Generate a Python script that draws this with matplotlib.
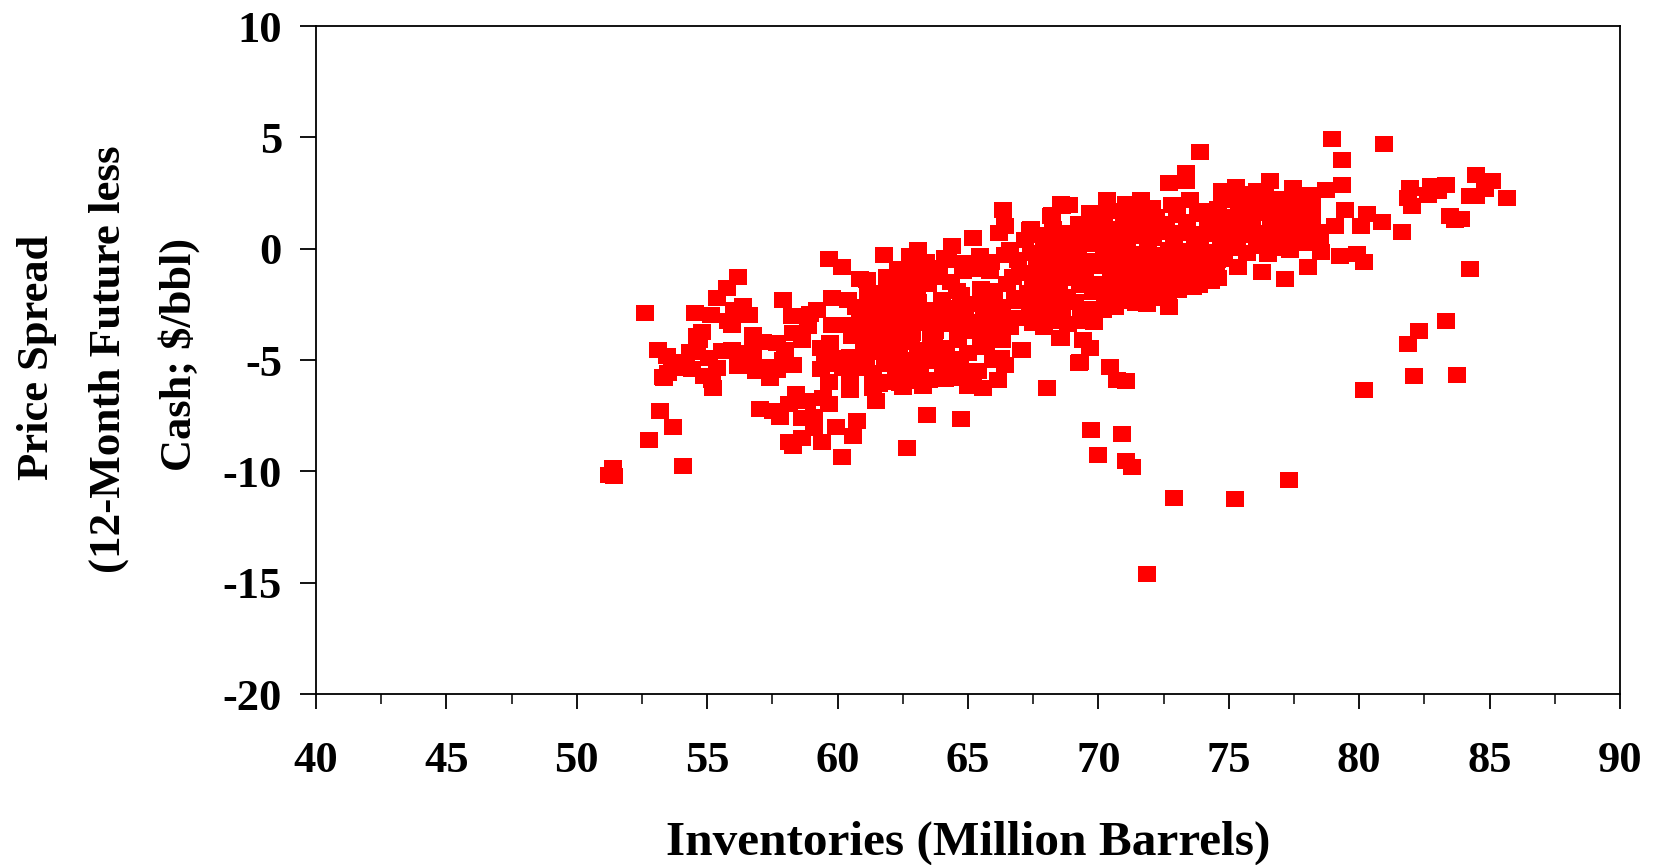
import matplotlib
matplotlib.use("Agg")
import matplotlib.pyplot as plt
from matplotlib.path import Path
import numpy as np

plt.rcParams["font.family"] = ["Liberation Serif", "DejaVu Serif"]
plt.rcParams["font.weight"] = "bold"
plt.rcParams["axes.unicode_minus"] = False

# values, grouped by inventory range
inv_50 = [51.24, 51.40, 51.44, 52.61, 52.78, 53.19, 53.67, 54.08, 53.10, 53.44,
          54.16, 53.34, 53.50, 54.40, 54.34, 54.79, 54.59, 54.62, 54.87, 53.30,
          53.65, 53.95, 54.20, 54.55, 54.70]
spread_50 = [-10.16, -9.86, -10.20, -2.91, -8.59, -7.31, -7.99, -9.78, -4.54, -4.80,
             -5.07, -5.81, -5.59, -5.40, -4.62, -3.76, -3.94, -4.62, -5.74, -5.75,
             -5.30, -5.35, -5.15, -2.91, -4.10]

inv_55 = [56.19, 55.77, 55.39, 55.13, 56.36, 56.03, 56.60, 55.80, 55.95, 57.89,
          55.23, 55.36, 55.17, 55.94, 56.19, 56.77, 56.77, 57.15, 56.89, 57.40,
          56.77, 57.66, 57.92, 58.30, 57.66, 58.24, 58.30, 58.88, 58.62, 57.98,
          59.36, 59.71, 59.36, 59.68, 58.39, 57.02, 57.51, 57.81, 58.15, 58.81,
          59.45, 59.68, 58.62, 59.10, 59.10, 58.62, 58.15, 58.30, 59.42, 59.92,
          59.20, 59.77, 59.77, 59.68, 55.55, 55.05, 56.40, 57.25, 58.95, 59.50]
spread_55 = [-1.26, -1.77, -2.22, -2.98, -2.56, -2.74, -2.98, -3.27, -3.42, -2.29,
             -6.26, -5.37, -5.89, -4.54, -5.29, -3.87, -4.54, -4.17, -5.50, -5.81,
             -5.10, -4.24, -5.00, -5.22, -5.44, -3.04, -3.79, -3.49, -4.09, -4.54,
             -4.47, -4.24, -5.41, -6.01, -6.52, -7.21, -7.31, -7.57, -6.97, -6.86,
             -6.71, -6.97, -7.61, -7.54, -8.06, -8.51, -8.69, -8.86, -8.69, -7.99,
             -2.74, -2.22, -3.42, -0.48, -4.60, -4.90, -4.70, -5.30, -2.95, -5.20]

inv_60 = [60.03, 60.47, 60.22, 60.47, 60.47, 60.73, 60.58, 60.15, 61.47, 61.37,
          60.41, 61.11, 61.88, 60.86, 60.47, 60.54, 61.24, 61.50, 61.18, 61.69,
          60.18, 61.79, 62.07, 62.71, 63.09, 62.77, 62.39, 63.03, 63.67, 64.37,
          64.12, 64.56, 64.82, 62.68, 63.41, 64.72, 64.56, 63.28, 62.39, 60.85,
          61.30, 61.75, 62.20, 62.65, 63.10, 63.55, 64.00, 64.45, 60.90, 61.35,
          61.80, 62.25, 62.70, 63.15, 63.60, 64.05, 64.50, 61.00, 61.45, 61.90,
          62.35, 62.80, 63.25, 63.70, 64.15, 64.60, 61.95, 62.40, 62.85, 63.30,
          63.75, 64.20, 64.65, 62.10, 62.55, 63.00, 63.45, 63.90, 64.35, 64.80,
          62.00, 62.50, 63.05, 63.50, 64.10, 64.70, 62.30, 62.90, 63.40, 63.85,
          64.25, 64.75, 61.60, 62.15, 62.75, 63.35, 63.95, 64.40, 64.90, 62.45]
spread_60 = [-4.92, -4.87, -5.37, -5.89, -6.34, -7.73, -8.41, -9.37, -6.86, -6.26,
             -2.29, -1.40, -1.25, -1.35, -3.42, -3.94, -3.94, -3.34, -2.14, -2.52,
             -0.83, -0.30, -1.62, -0.95, -0.05, -0.35, -2.29, -1.84, -1.25, 0.10,
             -0.42, -1.92, -0.65, -8.93, -7.46, -7.64, -5.81, -6.19, -6.04, -3.00,
             -2.85, -3.10, -2.60, -2.95, -2.40, -2.75, -2.30, -2.65, -5.35, -5.60,
             -5.20, -5.55, -5.15, -5.50, -5.05, -5.40, -4.95, -4.40, -4.65, -4.25,
             -4.60, -4.20, -4.55, -4.10, -4.45, -4.00, -3.70, -3.45, -3.80, -3.35,
             -3.70, -3.25, -3.60, -1.90, -1.55, -1.20, -1.60, -1.10, -1.50, -1.00,
             -6.00, -6.20, -5.95, -5.90, -5.85, -5.30, -0.90, -0.75, -0.60, -0.85,
             -0.50, -2.10, -6.10, -2.00, -2.15, -3.10, -2.90, -2.85, -3.05, -5.75]

inv_65 = [65.20, 65.46, 65.84, 66.61, 67.37, 68.20, 68.59, 66.74, 67.63, 68.53,
          65.84, 66.19, 66.34, 65.20, 65.59, 65.00, 66.16, 65.39, 65.97, 66.42,
          67.06, 68.53, 67.50, 68.20, 69.30, 67.76, 66.93, 67.37, 68.04, 68.55,
          68.88, 69.66, 68.22, 67.42, 66.42, 68.22, 67.48, 69.41, 69.27, 69.69,
          69.41, 68.55, 67.03, 68.00, 65.50, 66.00, 66.50, 67.00, 67.50, 68.00,
          68.50, 69.00, 69.50, 65.30, 65.80, 66.30, 66.80, 67.30, 67.80, 68.30,
          68.80, 69.30, 69.80, 65.10, 65.60, 66.10, 66.60, 67.10, 67.60, 68.10,
          68.60, 69.10, 69.60, 65.40, 65.90, 66.40, 66.90, 67.40, 67.90, 68.40,
          68.90, 69.40, 69.90, 67.20, 67.70, 68.25, 68.75, 69.25, 69.75, 67.90,
          68.35, 68.85, 69.35, 69.85, 68.10, 68.65, 69.15, 69.70, 65.70, 66.25]
spread_65 = [0.48, -0.35, -1.02, -0.05, 0.85, 1.45, 1.90, -1.25, -0.80, 0.25,
             -2.29, 0.72, 1.75, -6.04, -6.26, -6.19, -5.89, -5.50, -4.99, -5.22,
             -4.54, -4.02, -3.34, -3.22, -5.10, -1.92, -2.37, -2.97, -6.26, 2.00,
             1.97, 1.60, 1.52, 0.89, 1.00, -3.27, -3.35, -3.27, -5.15, -4.47,
             -4.10, -4.02, -4.55, -3.00, -1.80, -2.10, -1.60, -1.10, -1.40, -0.90,
             -1.20, -0.70, -1.00, -2.50, -2.90, -2.60, -2.20, -2.00, -2.45, -1.85,
             -2.15, -1.65, -1.95, -3.30, -3.60, -3.20, -3.50, -3.10, -2.75, -2.55,
             -2.85, -2.40, -2.70, -0.90, -0.60, -0.30, -0.50, -0.20, 0.10, -0.10,
             0.30, 0.20, 0.50, 0.40, 0.60, 0.90, 0.70, 1.10, 0.85, -3.50,
             -3.10, -3.40, -3.00, -3.30, -0.30, -0.10, 0.10, 1.30, -4.40, -4.90]

inv_70 = [70.43, 70.73, 71.06, 69.70, 70.00, 70.90, 71.05, 71.30, 72.90, 71.85,
          70.33, 71.62, 71.06, 73.50, 72.84, 72.04, 73.90, 73.34, 73.37, 72.71,
          72.71, 73.64, 74.30, 74.50, 71.45, 70.19, 74.75, 74.09, 74.75, 70.20,
          70.60, 71.00, 71.40, 71.80, 72.20, 72.60, 73.00, 73.40, 73.80, 74.20,
          74.60, 70.10, 70.50, 70.90, 71.30, 71.70, 72.10, 72.50, 72.90, 73.30,
          73.70, 74.10, 74.50, 74.90, 70.30, 70.70, 71.10, 71.50, 71.90, 72.30,
          72.70, 73.10, 73.50, 73.90, 74.30, 74.70, 70.15, 70.55, 70.95, 71.35,
          71.75, 72.15, 72.55, 72.95, 73.35, 73.75, 74.15, 74.55, 70.40, 70.80,
          71.20, 71.60, 72.00, 72.40, 72.80, 73.20, 73.60, 74.00, 74.40, 74.80,
          70.25, 70.65, 71.05, 71.45, 71.85, 72.25, 72.65, 73.05, 73.45, 73.85]
spread_70 = [-5.33, -5.90, -5.93, -8.15, -9.28, -8.34, -9.55, -9.80, -11.18, -14.60,
             2.20, 2.20, 2.02, 2.20, 1.97, 1.82, 4.34, 3.39, 3.02, 2.94,
             -2.60, -1.70, -1.47, -0.88, -2.45, -2.75, 2.57, 1.67, 2.20, 1.50,
             1.70, 1.30, 1.60, 1.20, 1.40, 1.10, 1.50, 1.20, 1.55, 1.35,
             1.80, 0.90, 0.60, 0.85, 0.55, 0.80, 0.50, 0.75, 0.45, 0.70,
             0.40, 0.65, 0.95, 1.10, 0.10, -0.20, 0.05, -0.25, 0.00, -0.30,
             -0.05, -0.35, -0.10, 0.15, -0.15, 0.20, -0.80, -1.10, -0.85, -1.15,
             -0.90, -1.20, -0.75, -1.05, -0.70, -1.00, -0.65, -0.50, -1.70, -2.00,
             -1.75, -2.10, -1.70, -2.05, -1.60, -1.30, -1.55, -1.25, -0.95, -0.30,
             -2.40, -2.60, -2.35, -2.30, -2.50, -2.20, -2.10, -1.85, -1.45, -1.65]

inv_75 = [76.58, 77.46, 75.29, 76.08, 78.73, 78.13, 79.45, 79.06, 78.40, 77.34,
          78.00, 76.80, 77.60, 75.35, 76.27, 77.15, 78.03, 78.53, 79.25, 78.95,
          79.35, 79.35, 75.25, 77.30, 75.20, 75.60, 76.00, 76.40, 76.80, 77.20,
          75.40, 75.80, 76.20, 76.60, 77.00, 77.40, 77.80, 75.10, 75.50, 75.90,
          76.30, 76.70, 77.10, 75.30, 75.70, 76.10, 76.50, 76.90, 78.20, 78.50]
spread_75 = [3.05, 2.72, 2.79, 2.57, 2.64, 2.42, 1.75, 1.00, 0.77, -0.05,
             0.25, 1.75, 1.52, -0.83, -1.07, -1.36, -0.83, -0.13, -0.32, 4.94,
             3.99, 2.87, -11.23, -10.38, 2.20, 2.45, 2.10, 2.55, 2.25, 2.00,
             1.60, 1.30, 1.70, 1.35, 1.60, 2.10, 1.90, 0.90, 0.60, 0.90,
             0.70, 0.40, 0.85, 0.05, -0.20, 0.10, -0.25, 0.05, 1.30, 0.60]

inv_80 = [80.97, 81.93, 82.03, 81.87, 82.76, 82.63, 83.33, 83.02, 84.48, 85.10,
          84.81, 84.24, 84.48, 85.68, 83.49, 83.68, 83.92, 81.64, 80.88, 80.31,
          80.08, 79.92, 80.18, 84.24, 83.33, 82.29, 81.87, 82.11, 83.75, 80.20]
spread_80 = [4.68, 2.72, 1.93, 2.27, 2.80, 2.42, 2.87, 2.57, 3.32, 3.05,
             2.67, 2.35, 2.35, 2.27, 1.48, 1.30, 1.33, 0.73, 1.22, 1.57,
             1.04, -0.23, -0.58, -0.92, -3.24, -3.68, -4.29, -5.74, -5.67, -6.34]

# solid middle of the cloud, individual squares cannot be told apart there
inv_dense = [75.90, 76.30, 76.70, 77.10, 77.50, 77.90, 78.30, 75.50, 76.10, 76.90,
             77.30, 77.70, 78.10, 78.50, 75.70, 76.50, 77.00, 77.60, 78.20, 75.20,
             74.90, 74.40, 73.90, 73.40, 72.90, 72.40, 71.90, 71.40, 70.90, 70.40,
             69.90, 69.40, 68.90, 68.40, 67.90, 74.70, 74.20, 73.70, 73.20, 72.70,
             72.20, 71.70, 71.20, 70.70, 70.20, 69.70, 69.20, 68.70, 68.20, 67.70,
             74.60, 74.00, 73.50, 73.00, 72.50, 72.00, 71.50, 71.00, 70.50, 70.00,
             69.50, 69.00, 68.50, 68.00, 67.50, 61.10, 61.60, 62.10, 62.60, 63.10,
             63.60, 64.10, 64.60, 65.10, 65.60, 61.30, 61.80, 62.30, 62.80, 63.30,
             63.80, 64.30, 64.80, 65.30, 65.80, 61.50, 62.00, 62.50, 63.00, 63.50,
             64.00, 64.50, 65.00, 65.50, 66.00, 66.30, 66.70, 60.70, 61.00, 67.20]
spread_dense = [1.90, 1.60, 1.20, 0.90, 1.10, 1.50, 0.70, 1.00, 0.30, 0.70,
                0.30, 0.60, 1.00, 0.30, 1.60, 2.00, 1.40, 2.20, 1.90, 1.40,
                0.30, 1.00, 0.30, 0.90, 0.10, 0.80, 0.20, 1.00, 0.25, 0.90,
                0.20, 0.80, 0.10, 0.60, 0.20, -0.45, -0.60, -0.40, -0.50, -0.65,
                -0.55, -0.40, -0.60, -0.50, -0.35, -0.55, -0.40, -0.60, -0.90, -0.50,
                -1.30, -1.40, -1.30, -1.50, -1.40, -1.55, -1.35, -1.50, -1.40, -1.60,
                -1.50, -1.30, -1.65, -1.35, -2.10, -4.90, -4.10, -4.80, -4.00, -4.85,
                -4.00, -4.85, -4.10, -3.70, -3.00, -3.20, -2.90, -3.10, -3.30, -3.25,
                -3.10, -3.40, -2.60, -2.50, -1.90, -2.00, -5.15, -5.00, -5.25, -4.70,
                -5.00, -5.60, -4.70, -4.30, -3.70, -4.10, -3.10, -2.60, -3.60, -2.35]

x_ticks = [40, 45, 50, 55, 60, 65, 70, 75, 80, 85, 90]
y_ticks = [10, 5, 0, -5, -10, -15, -20]

inventories = np.concatenate([inv_50, inv_55, inv_60, inv_65, inv_70, inv_75, inv_80, inv_dense])
spreads = np.concatenate([spread_50, spread_55, spread_60, spread_65, spread_70, spread_75, spread_80, spread_dense])

W, H = 1654, 865
fig = plt.figure(figsize=(W / 100, H / 100), dpi=100)
ax = fig.add_axes([316 / W, (H - 694) / H, 1304 / W, 668 / H])

# squares in the original are a touch wider than tall
box = Path([(-1, -0.9), (1, -0.9), (1, 0.9), (-1, 0.9), (-1, -0.9)], closed=True)
ax.plot(inventories, spreads, ls="none", marker=box, ms=12.3, mfc="#ff0000", mew=0)

ax.set_xlim(40, 90)
ax.set_ylim(-20, 10)
ax.set_xticks(x_ticks)
ax.set_yticks(y_ticks)
ax.set_xticks(np.arange(42.5, 90, 5), minor=True)
ax.tick_params(axis="x", which="major", length=10.5, width=1.3, pad=23.5, labelsize=32)
ax.tick_params(axis="x", which="minor", length=7, width=1.1)
ax.tick_params(axis="y", which="major", length=11.5, width=1.3, pad=13, labelsize=32)
for s in ax.spines.values():
    s.set_linewidth(1.3)

fig.text(968 / W, 1 - 843 / H, "Inventories (Million Barrels)", ha="center", va="center", fontsize=35.5)
fig.text(37 / W, 1 - 357 / H, "Price Spread", rotation=90, ha="center", va="center", fontsize=32)
fig.text(109 / W, 1 - 359 / H, "(12-Month Future less", rotation=90, ha="center", va="center", fontsize=32.5)
fig.text(179 / W, 1 - 354 / H, "Cash; $/bbl)", rotation=90, ha="center", va="center", fontsize=32)

fig.savefig("out.png", dpi=100)
